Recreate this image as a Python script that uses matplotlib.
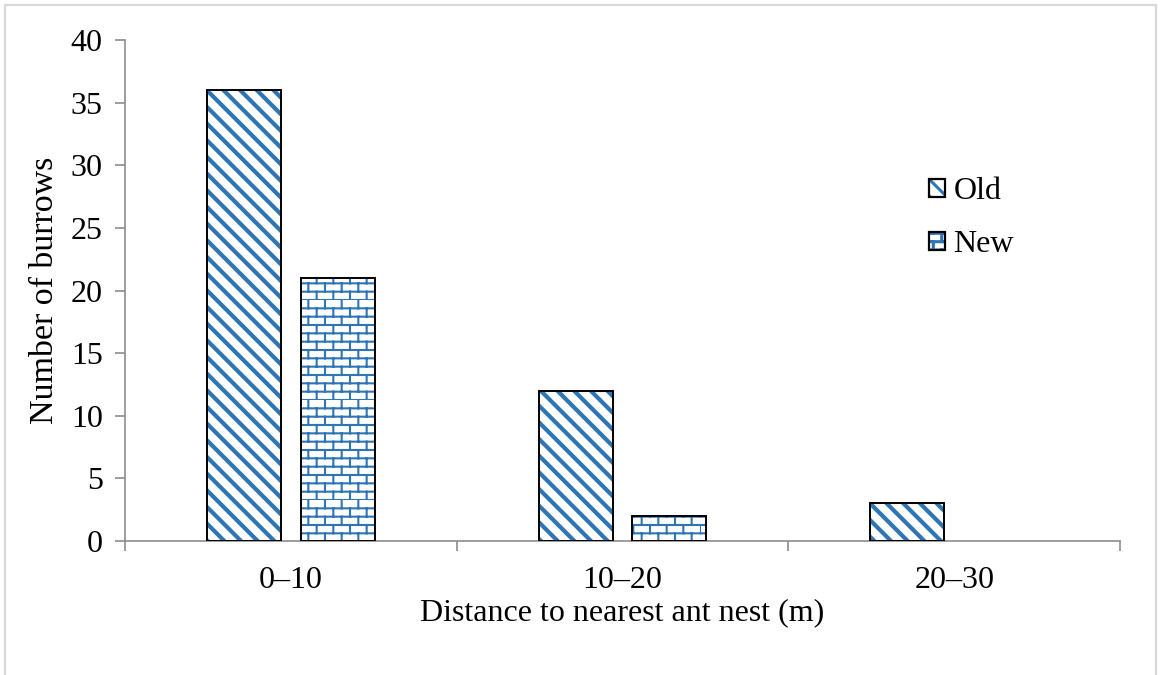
import warnings
import numpy as np
import matplotlib
matplotlib.use("Agg")
import matplotlib.pyplot as plt
import matplotlib.hatch as mhatch
from matplotlib.path import Path
from matplotlib.patches import Patch, Rectangle
from matplotlib.legend_handler import HandlerTuple

warnings.filterwarnings("ignore")

categories = ["0\u201310", "10\u201320", "20\u201330"]
old_counts = [36, 12, 3]
new_counts = [21, 2, 0]
series_names = ["Old", "New"]
y_ticks = [0, 5, 10, 15, 20, 25, 30, 35, 40]

BLUE = "#2E75B6"
GRID_GREY = "#8c8c8c"
FS = 23


class BrickHatch(mhatch.HatchPatternBase):
    """Running-bond brick pattern, triggered by the 'b' hatch character."""

    def __init__(self, hatch, density):
        n = hatch.count("b")
        self.rows = 12 * n
        self.cols = 6 * n
        # horizontal lines + vertical joints in every row
        self.num_vertices = self.rows * 2 + self.rows * self.cols * 2

    def set_vertices_and_codes(self, vertices, codes):
        rows, cols = self.rows, self.cols
        rh = 1.0 / rows
        bw = 1.0 / cols
        i = 0
        for r in range(rows):
            y = r * rh
            vertices[i] = (0.0, y)
            vertices[i + 1] = (1.0, y)
            codes[i] = Path.MOVETO
            codes[i + 1] = Path.LINETO
            i += 2
        for r in range(rows):
            shift = bw / 2.0 if r % 2 else 0.0
            for c in range(cols):
                x = c * bw + shift
                vertices[i] = (x, r * rh)
                vertices[i + 1] = (x, (r + 1) * rh)
                codes[i] = Path.MOVETO
                codes[i + 1] = Path.LINETO
                i += 2


mhatch._hatch_types.append(BrickHatch)

plt.rcParams["font.family"] = ["Liberation Serif", "DejaVu Serif"]
plt.rcParams["hatch.linewidth"] = 2.6

fig = plt.figure(figsize=(11.6, 6.75), dpi=100)
fig.patches.append(Rectangle((5 / 1160, -0.05), 1151 / 1160, 1.0 - 5 / 675 + 0.05,
                             transform=fig.transFigure, fill=False,
                             edgecolor="#d9d9d9", linewidth=1.6))

ax = fig.add_axes([125 / 1160, 1 - 541 / 675, (1120 - 125) / 1160, (541 - 40) / 675])

x = np.arange(len(categories)) + 0.5
width = 0.223
offset = 0.1416


def hatched_bars(xpos, values, hatch, hatch_lw):
    plt.rcParams["hatch.linewidth"] = hatch_lw
    fill = ax.bar(xpos, values, width, color="white", edgecolor=BLUE,
                  hatch=hatch, linewidth=0, zorder=2)
    outline = ax.bar(xpos, values, width, fill=False, edgecolor="black",
                     linewidth=1.4, zorder=3)
    for rect, v in zip(outline, values):
        if v == 0:
            rect.set_visible(False)
    return fill, outline


old_fill, old_edge = hatched_bars(x - offset, old_counts, "\\\\", 3.0)
new_fill, new_edge = hatched_bars(x + offset, new_counts, "b", 1.5)

ax.set_xlim(0, len(categories))
ax.set_ylim(0, 40)
ax.set_yticks(y_ticks)
ax.set_xticks([0, 1, 2, 3])
ax.set_xticklabels([])
ax.set_xticks(x, minor=True)
ax.set_xticklabels(categories, minor=True)
ax.tick_params(axis="x", which="minor", length=0, pad=18, labelsize=FS)
ax.tick_params(axis="x", which="major", length=7, color=GRID_GREY, width=1.2)
ax.tick_params(axis="y", length=7, color=GRID_GREY, width=1.2, labelsize=FS, pad=9)

for side in ("top", "right"):
    ax.spines[side].set_visible(False)
for side in ("left", "bottom"):
    ax.spines[side].set_color(GRID_GREY)
    ax.spines[side].set_linewidth(1.2)

ax.set_ylabel("Number of burrows", fontsize=24.5, labelpad=8)
ax.set_xlabel("Distance to nearest ant nest (m)", fontsize=FS, labelpad=2.5)

plt.rcParams["hatch.linewidth"] = 2.2
handles = [
    (Patch(facecolor="white", edgecolor=BLUE, hatch="\\\\", linewidth=0),
     Patch(fill=False, edgecolor="black", linewidth=1.6)),
    (Patch(facecolor="white", edgecolor=BLUE, hatch="b", linewidth=0),
     Patch(fill=False, edgecolor="black", linewidth=1.6)),
]
ax.legend(handles, series_names, handler_map={tuple: HandlerTuple(ndivide=1, pad=0)},
          loc="upper left", bbox_to_anchor=(0.7955, 0.752), frameon=False,
          fontsize=FS, handlelength=0.5, handleheight=0.5, handletextpad=0.25,
          labelspacing=0.75, borderaxespad=0)

fig.savefig("out.png", dpi=100)
